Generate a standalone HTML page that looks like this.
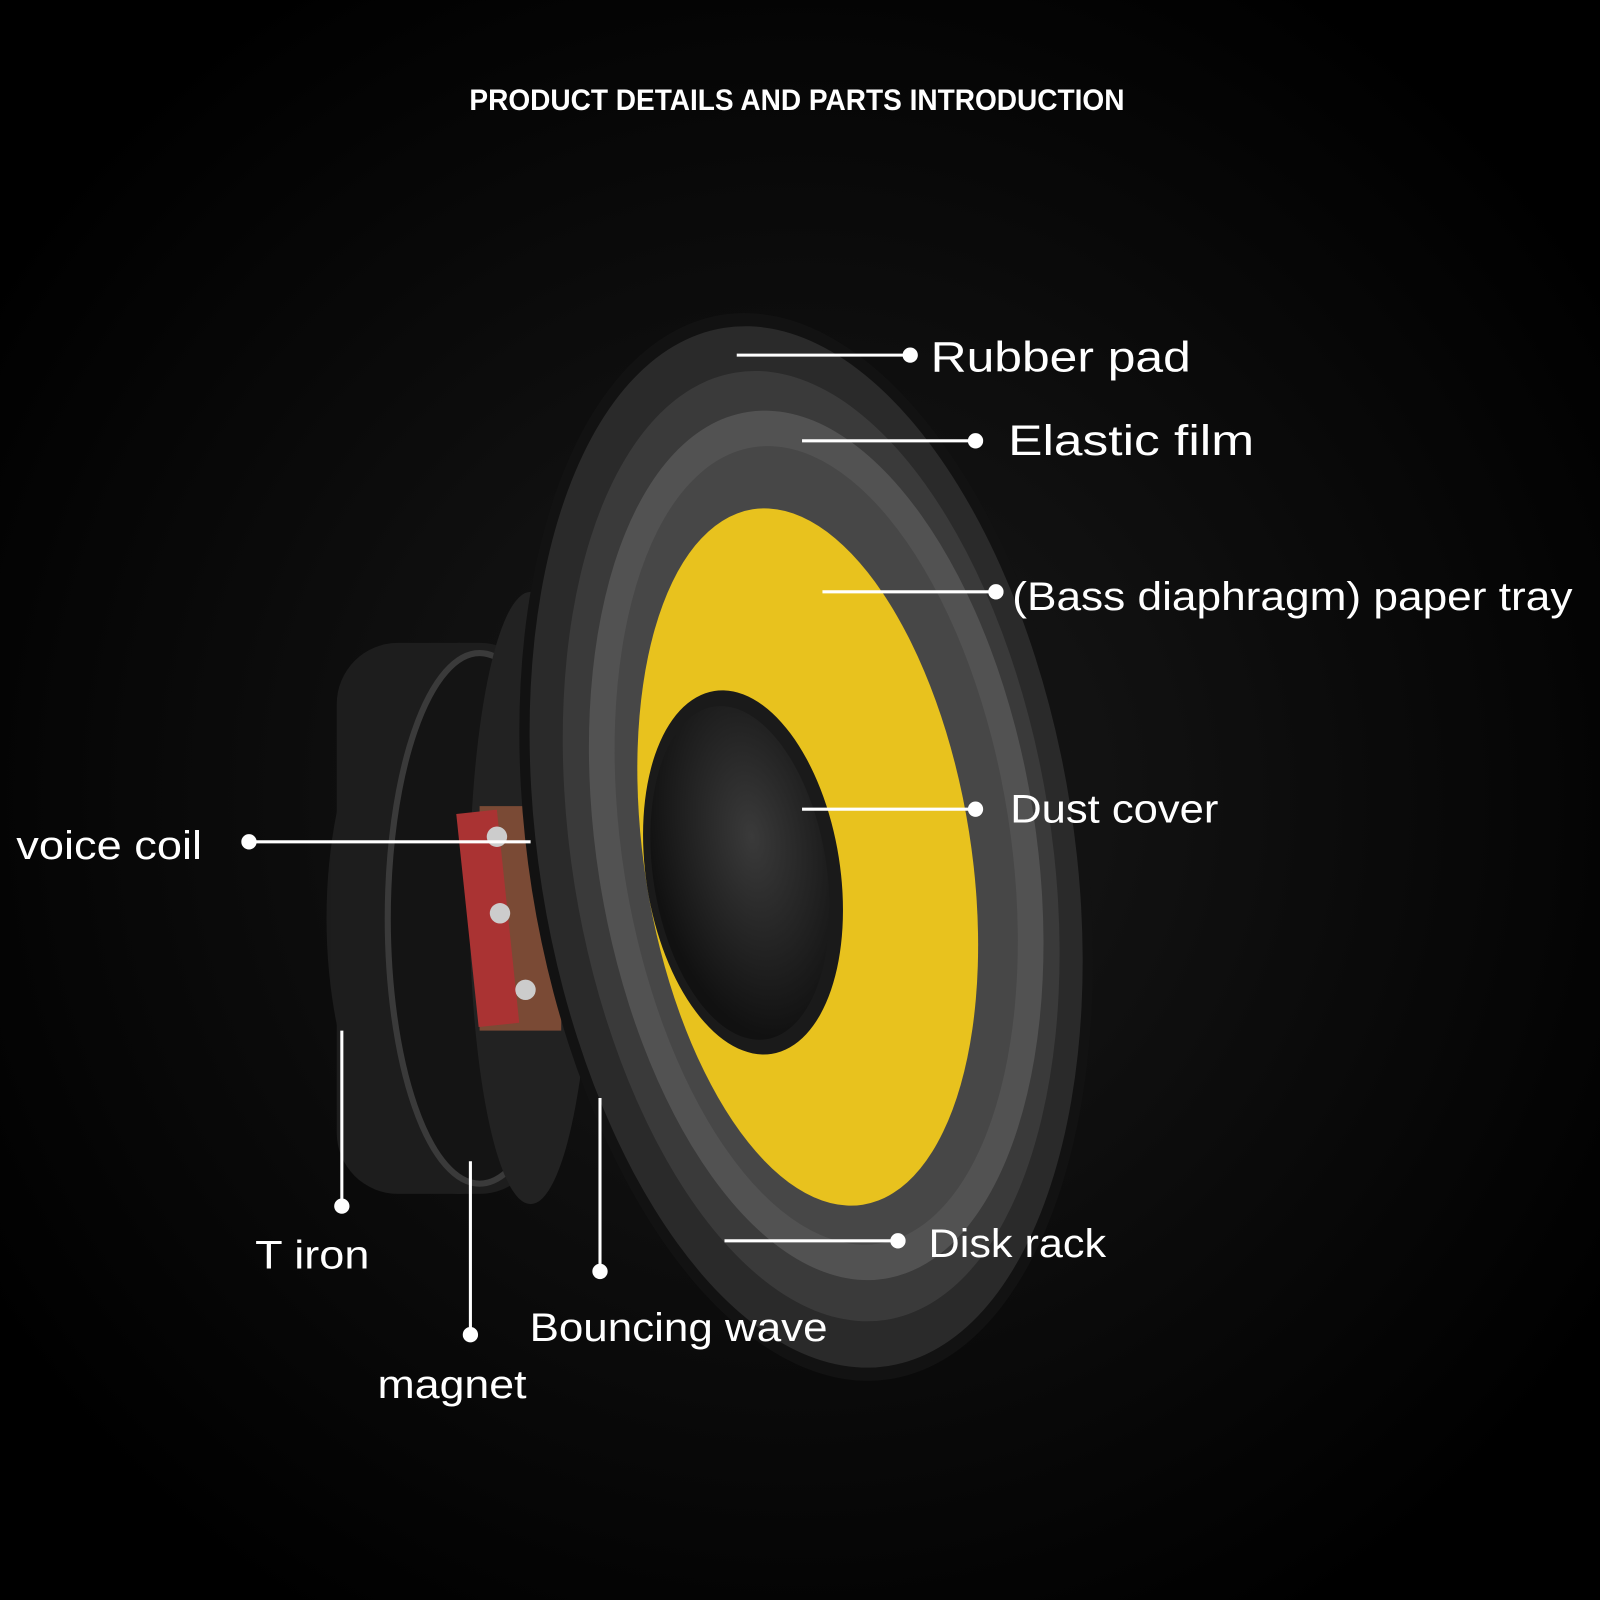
<!DOCTYPE html>
<html><head><meta charset="utf-8"><style>
html,body{margin:0;padding:0;background:#000;}
svg{display:block}
text{font-family:"Liberation Sans","DejaVu Sans",sans-serif;fill:#fff}
</style></head><body>
<svg width="1600" height="1600" viewBox="0 0 1568 1568" xmlns="http://www.w3.org/2000/svg">
<defs>
<radialGradient id="bg" cx="50%" cy="50%" r="60%"><stop offset="0" stop-color="#1a1a1a"/><stop offset="1" stop-color="#000"/></radialGradient>
<radialGradient id="dc" cx="60%" cy="40%" r="60%"><stop offset="0" stop-color="#3a3a3a"/><stop offset="1" stop-color="#111"/></radialGradient>
<linearGradient id="mg" x1="0" x2="1"><stop offset="0" stop-color="#1c1c1c"/><stop offset=".5" stop-color="#2e2e2e"/><stop offset="1" stop-color="#151515"/></linearGradient>
</defs>
<rect width="1568" height="1568" fill="url(#bg)"/>
<text x="460" y="108" font-size="29" font-weight="600" textLength="642" lengthAdjust="spacingAndGlyphs">PRODUCT DETAILS AND PARTS INTRODUCTION</text>

<g>
<ellipse cx="450" cy="900" rx="130" ry="270" fill="url(#mg)"/>
<rect x="330" y="630" width="200" height="540" rx="60" fill="#1d1d1d"/>
<ellipse cx="470" cy="900" rx="90" ry="260" fill="#141414" stroke="#3a3a3a" stroke-width="6"/>
<ellipse cx="520" cy="880" rx="60" ry="300" fill="#222" />
<rect x="470" y="790" width="80" height="220" fill="#7a4a35"/>
<rect x="458" y="795" width="40" height="210" fill="#a33" transform="rotate(-6 478 900)"/>
<circle cx="487" cy="820" r="10" fill="#ccc"/>
<circle cx="490" cy="895" r="10" fill="#ccc"/>
<circle cx="515" cy="970" r="10" fill="#ccc"/>
</g>

<g transform="rotate(-9 790 830)">
<ellipse cx="790" cy="830" rx="272" ry="528" fill="#121212"/>
<ellipse cx="790" cy="830" rx="262" ry="515" fill="#2a2a2a"/>
<ellipse cx="795" cy="830" rx="235" ry="470" fill="#3a3a3a"/>
<ellipse cx="800" cy="830" rx="215" ry="430" fill="#525252"/>
<ellipse cx="800" cy="830" rx="190" ry="395" fill="#474747"/>
<ellipse cx="790" cy="840" rx="160" ry="345" fill="#e8c21e"/>
<ellipse cx="725" cy="845" rx="95" ry="180" fill="#1a1a1a"/>
<ellipse cx="722" cy="845" rx="85" ry="165" fill="url(#dc)"/>
</g>

<g stroke="#fff" stroke-width="3" fill="#fff">
<line x1="722" y1="348" x2="892" y2="348"/><circle cx="892" cy="348" r="6"/>
<line x1="786" y1="432" x2="956" y2="432"/><circle cx="956" cy="432" r="6"/>
<line x1="806" y1="580" x2="976" y2="580"/><circle cx="976" cy="580" r="6"/>
<line x1="786" y1="793" x2="956" y2="793"/><circle cx="956" cy="793" r="6"/>
<line x1="710" y1="1216" x2="880" y2="1216"/><circle cx="880" cy="1216" r="6"/>
<line x1="244" y1="825" x2="520" y2="825"/><circle cx="244" cy="825" r="6"/>
<line x1="335" y1="1010" x2="335" y2="1182"/><circle cx="335" cy="1182" r="6"/>
<line x1="461" y1="1138" x2="461" y2="1308"/><circle cx="461" cy="1308" r="6"/>
<line x1="588" y1="1076" x2="588" y2="1246"/><circle cx="588" cy="1246" r="6"/>
</g>

<g font-size="42" lengthAdjust="spacingAndGlyphs">
<text x="912" y="364" textLength="255" lengthAdjust="spacingAndGlyphs">Rubber pad</text>
<text x="988" y="446" textLength="241" lengthAdjust="spacingAndGlyphs">Elastic film</text>
<text x="992" y="598" font-size="39" textLength="549" lengthAdjust="spacingAndGlyphs">(Bass diaphragm) paper tray</text>
<text x="990" y="806" font-size="39" textLength="204" lengthAdjust="spacingAndGlyphs">Dust cover</text>
<text x="910" y="1232" font-size="39" textLength="174" lengthAdjust="spacingAndGlyphs">Disk rack</text>
<text x="16" y="842" font-size="39" textLength="182" lengthAdjust="spacingAndGlyphs">voice coil</text>
<text x="250" y="1243" font-size="39" textLength="112" lengthAdjust="spacingAndGlyphs">T iron</text>
<text x="519" y="1314" font-size="39" textLength="292" lengthAdjust="spacingAndGlyphs">Bouncing wave</text>
<text x="370" y="1370" font-size="39" textLength="146" lengthAdjust="spacingAndGlyphs">magnet</text>
</g>
</svg>
</body></html>
